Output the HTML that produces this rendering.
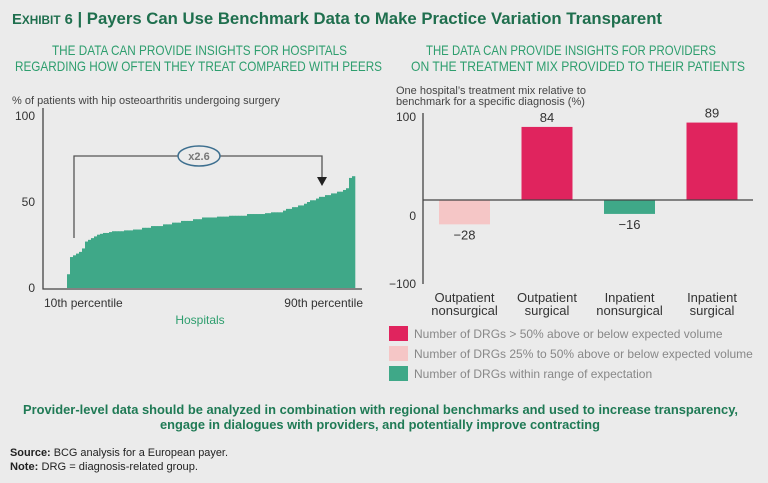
<!DOCTYPE html>
<html><head><meta charset="utf-8"><style>
html,body{margin:0;padding:0;background:#ebebeb;}
svg{display:block;font-family:"Liberation Sans",sans-serif;}
</style></head><body>
<svg id="root" width="768" height="483" viewBox="0 0 768 483">
<rect x="0" y="0" width="768" height="483" fill="#ebebeb"/>
<text x="12" y="24" font-size="17" font-weight="bold" fill="#1f6f4e" textLength="650" lengthAdjust="spacingAndGlyphs"><tspan font-size="15">E<tspan font-size="12">XHIBIT</tspan> 6</tspan> | Payers Can Use Benchmark Data to Make Practice Variation Transparent</text>
<g fill="#2e9e6e" font-size="14">
<text x="52" y="55" textLength="295" lengthAdjust="spacingAndGlyphs">THE DATA CAN PROVIDE INSIGHTS FOR HOSPITALS</text>
<text x="15" y="71" textLength="367" lengthAdjust="spacingAndGlyphs">REGARDING HOW OFTEN THEY TREAT COMPARED WITH PEERS</text>
</g>
<g fill="#2e9e6e" font-size="14">
<text x="426" y="55" textLength="290" lengthAdjust="spacingAndGlyphs">THE DATA CAN PROVIDE INSIGHTS FOR PROVIDERS</text>
<text x="411" y="71" textLength="334" lengthAdjust="spacingAndGlyphs">ON THE TREATMENT MIX PROVIDED TO THEIR PATIENTS</text>
</g>

<!-- Left chart -->
<text x="12" y="104" font-size="11" fill="#444">% of patients with hip osteoarthritis undergoing surgery</text>
<g id="leftChart"></g>
<text x="44" y="307" font-size="12" fill="#333">10th percentile</text>
<text x="363" y="307" font-size="12" fill="#333" text-anchor="end">90th percentile</text>
<text x="200" y="324" font-size="12" fill="#2e9e6e" text-anchor="middle">Hospitals</text>
<g fill="none" stroke="#555" stroke-width="1.3">
<polyline points="74,238 74,156 322,156 322,180"/>
</g>
<polygon points="317,177 327,177 322,186" fill="#222"/>
<ellipse cx="199" cy="156" rx="21" ry="10" fill="#ebebeb" stroke="#3d6f8f" stroke-width="1.5"/>
<text x="199" y="160" font-size="11" font-weight="bold" fill="#777" text-anchor="middle">x2.6</text>

<!-- Right chart -->
<text x="396" y="94" font-size="11" fill="#444">One hospital’s treatment mix relative to</text>
<text x="396" y="105" font-size="11" fill="#444">benchmark for a specific diagnosis (%)</text>
<g id="rightChart"></g>

<!-- Legend -->
<g font-size="12" fill="#888">
<rect x="389" y="326" width="19" height="15" fill="#e0245e"/>
<text x="414" y="338">Number of DRGs &gt; 50% above or below expected volume</text>
<rect x="389" y="346" width="19" height="15" fill="#f5c6c6"/>
<text x="414" y="358">Number of DRGs 25% to 50% above or below expected volume</text>
<rect x="389" y="366" width="19" height="15" fill="#3fa888"/>
<text x="414" y="378">Number of DRGs within range of expectation</text>
</g>

<g font-size="13" font-weight="bold" fill="#1f7a55">
<text x="23" y="414" textLength="715" lengthAdjust="spacingAndGlyphs">Provider-level data should be analyzed in combination with regional benchmarks and used to increase transparency,</text>
<text x="160" y="429" textLength="440" lengthAdjust="spacingAndGlyphs">engage in dialogues with providers, and potentially improve contracting</text>
</g>
<text x="10" y="456" font-size="11" fill="#222" textLength="218" lengthAdjust="spacingAndGlyphs"><tspan font-weight="bold">Source:</tspan> BCG analysis for a European payer.</text>
<text x="10" y="470" font-size="11" fill="#222" textLength="188" lengthAdjust="spacingAndGlyphs"><tspan font-weight="bold">Note:</tspan> DRG = diagnosis-related group.</text>
</svg>
<script>
const hospitalValues = [8,18,19,20,21,23,27,28,29,30,31,31.5,32,32,32.5,33,33,33,33,33.5,33.5,33.5,34,34,34,35,35,35,36,36,36,36,37,37,37,38,38,38,39,39,39,39,40,40,40,41,41,41,41,41,41.5,41.5,41.5,41.5,42,42,42,42,42,42,43,43,43,43,43,43,43.5,43.5,44,44,44,44,45,46,46,47,47,48,48,49,50,51,51,52,53,53,54,54,55,55,56,56,57,58,64,65];
const leftTicks = [0,50,100];
const categories = [["Outpatient","nonsurgical"],["Outpatient","surgical"],["Inpatient","nonsurgical"],["Inpatient","surgical"]];
const mixValues = [-28,84,-16,89];
const mixColors = ["#f5c6c6","#e0245e","#3fa888","#e0245e"];
const rightTicks = [100,0,-100];

const NS="http://www.w3.org/2000/svg";
function mk(tag,attrs,parent){const e=document.createElementNS(NS,tag);for(const k in attrs)e.setAttribute(k,attrs[k]);parent.appendChild(e);return e;}

// Left chart
const L=document.getElementById('leftChart');
const ly=v=>288-v*1.72;
const x0=67,x1=355,bw=(x1-x0)/hospitalValues.length;
hospitalValues.forEach((v,i)=>{
  const r=mk('rect',{x:x0+i*bw,y:ly(v),width:bw+0.3,height:ly(0)-ly(v),fill:'#3fa888'},L);
  
  
});
leftTicks.forEach(t=>{
  const tx=mk('text',{x:35,y:ly(t)+4,'font-size':12,fill:'#333','text-anchor':'end'},L);
  tx.textContent=t;
  
  
});
const la=mk('polyline',{points:'43,108 43,289 362,289',fill:'none',stroke:'#444','stroke-width':1.3},L);



// Right chart
const R=document.getElementById('rightChart');
const ry=v=>200-v*0.87;
const cx=i=>464.5+i*82.5;
const rbw=51;
mixValues.forEach((v,i)=>{
  const top=Math.min(ry(v),ry(0)),h=Math.abs(ry(v)-ry(0));
  const r=mk('rect',{x:cx(i)-rbw/2,y:top,width:rbw,height:h,fill:mixColors[i]},R);
  
  
  const lab=mk('text',{x:cx(i),y:v>=0?ry(v)-5:ry(v)+15,'font-size':13,fill:'#333','text-anchor':'middle'},R);
  lab.textContent=(v<0?'\u2212'+(-v):v);
  
  
  categories[i].forEach((line,j)=>{
    const c=mk('text',{x:cx(i),y:302+j*13,'font-size':13,fill:'#333','text-anchor':'middle'},R);
    c.textContent=line;
    
    
  });
});
const tickY={100:121,0:220,'-100':288};
rightTicks.forEach(t=>{
  const tx=mk('text',{x:416,y:tickY[t],'font-size':12,fill:'#333','text-anchor':'end'},R);
  tx.textContent=(t<0?'\u2212'+(-t):t);
  
  
});
const va=mk('line',{x1:423,y1:113,x2:423,y2:284,stroke:'#444','stroke-width':1.3},R);


const za=mk('line',{x1:423,y1:ry(0),x2:753,y2:ry(0),stroke:'#444','stroke-width':1.3},R);


</script>
</body></html>
